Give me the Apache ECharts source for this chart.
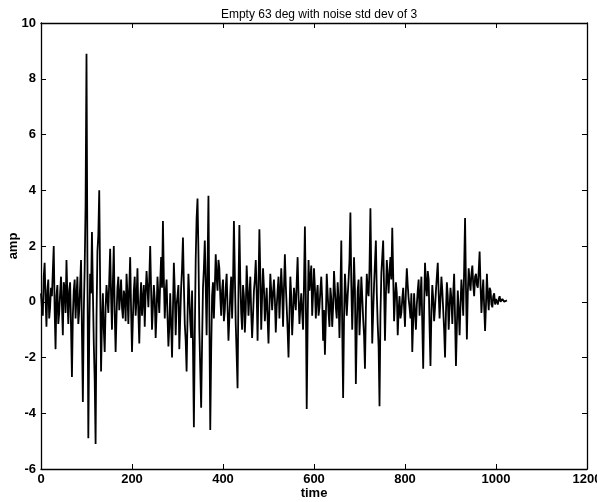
<!DOCTYPE html>
<html>
<head>
<meta charset="utf-8">
<script src="https://cdn.jsdelivr.net/npm/echarts@6/dist/echarts.min.js"></script>
<style>html,body{margin:0;padding:0;background:#fff}#c{width:597px;height:502px}</style>
</head>
<body>
<div id="c"></div>
<script>
const titleText = "Empty 63 deg with noise std dev of 3";
const xName = "time";
const yName = "amp";
const xTicks = [0, 200, 400, 600, 800, 1000, 1200];
const yTicks = [-6, -4, -2, 0, 2, 4, 6, 8, 10];
const sampleStep = 2; // time units between samples
const amp = [
  0.3,-0.2,-0.5,0.9,1.4,0.1,-0.9,0.4,0.8,-0.6,-0.2,0.5,0.2,1.1,2.0,-0.3,-1.7,0.2,0.6,-0.8,-0.4,0.3,0.9,-0.1,-1.2,0.7,0.5,-0.4,1.5,0.2,-0.8,0.4,
  0.7,-0.9,-2.7,-0.5,0.4,0.8,-0.6,0.2,0.9,-0.8,-0.3,0.6,1.5,-1.1,-3.6,-0.4,1.2,3.5,8.9,1.5,-4.9,-1.2,1.0,0.3,2.5,0.4,-1.5,-2.8,-5.1,-0.6,1.8,2.4,
  4.0,0.6,-2.5,-0.7,0.3,-1.0,-1.8,-0.2,0.6,0.1,-0.4,0.8,1.9,0.2,-1.0,0.7,2.0,-0.4,-1.8,-0.5,0.5,0.9,-0.3,0.2,0.8,-0.2,-0.6,0.4,0.2,-0.7,1.0,0.3,
  -0.8,0.5,1.6,-0.3,-1.8,-0.6,0.4,0.9,-0.5,0.1,1.2,-0.4,-1.5,0.0,0.7,-0.5,0.1,0.6,-0.9,0.3,1.1,0.5,-0.2,0.8,2.0,0.4,-1.0,-0.2,0.6,0.1,-1.3,-0.4,
  0.9,0.2,-0.4,0.7,1.6,0.5,2.9,0.8,-0.6,0.3,0.8,-0.5,-1.6,-0.9,0.3,-0.8,-2.0,-0.3,1.4,0.4,-1.2,-0.1,0.2,0.6,-1.7,-0.6,0.5,1.2,2.3,0.6,-0.8,-1.4,
  -2.5,-0.6,1.0,0.2,-0.7,-1.3,0.4,-1.6,-4.5,-1.2,1.5,3.0,3.7,1.8,-1.0,-2.4,-3.8,-1.5,0.5,1.2,2.2,0.6,-1.2,1.1,3.8,-0.4,-4.6,-1.8,0.2,0.7,-0.6,0.5,
  1.7,0.9,0.4,1.5,1.2,0.2,-0.5,0.4,0.8,-0.7,-0.3,0.5,1.0,-0.2,-1.4,-0.6,0.3,0.9,-0.6,0.6,2.9,1.0,-0.8,-1.9,-3.1,0.4,2.75,0.8,-0.4,-1.0,0.6,0.2,
  -1.1,-0.3,1.3,0.5,-0.5,0.2,0.9,-0.4,-1.3,-0.5,0.4,0.8,1.5,0.3,-1.4,0.6,2.6,1.0,-1.0,0.2,1.2,0.5,-0.7,-0.1,0.5,-0.6,-1.5,-0.2,1.0,0.4,-0.3,0.3,
  0.8,0.1,-1.1,-0.2,0.4,0.9,-0.6,0.3,1.2,0.4,-0.9,0.5,1.7,0.6,-0.2,-1.0,-2.0,-0.5,0.9,0.2,-1.2,-0.4,0.5,0.1,-0.3,0.7,1.6,0.2,-0.8,-0.2,0.3,-0.4,
  -1.0,0.6,2.7,0.2,-3.85,-0.8,1.5,0.4,0.8,1.3,-0.5,0.3,1.2,0.5,-0.6,0.2,0.6,-0.5,-0.2,0.4,0.9,0.1,-1.4,-0.3,-1.9,-0.6,1.0,0.3,-0.4,-0.9,0.5,0.1,
  -0.9,-0.2,1.1,0.4,-0.2,-0.6,0.7,0.1,-1.3,0.3,2.2,-0.9,-3.45,-0.6,1.0,0.3,-0.5,0.2,0.8,1.5,3.2,0.6,-1.0,0.2,1.6,0.4,-2.95,-1.0,0.4,0.8,-1.2,-0.3,
  0.9,0.2,-0.6,-1.2,-2.4,-0.3,1.0,0.4,0.2,1.2,3.35,0.9,-1.5,-0.4,0.6,1.4,2.2,0.3,-0.8,-1.6,-3.75,-0.5,1.0,1.6,2.2,0.5,-1.4,0.2,1.5,0.9,0.3,1.1,
  1.6,0.8,2.65,1.0,-0.7,0.1,0.7,0.3,-1.2,-0.3,0.2,-0.6,-0.4,0.1,0.5,-0.2,-0.9,0.4,1.2,0.6,0.1,-0.2,-0.6,0.3,-1.8,-0.7,0.3,-0.4,-1.0,-0.1,0.4,0.8,
  -0.5,0.2,0.9,-0.8,-2.4,-0.2,1.4,0.6,0.2,1.1,0.8,-0.9,-2.3,-0.4,0.6,0.1,-0.7,-0.2,0.4,0.9,1.4,0.3,-0.6,0.1,0.9,0.4,-0.3,-1.0,-2.0,-0.4,0.7,0.2,
  -1.0,-0.2,0.5,0.1,-0.8,0.3,1.0,-0.6,-2.3,-0.9,0.4,-0.3,-1.2,-0.1,0.8,0.2,-0.5,1.2,3.0,0.5,-1.35,0.3,1.2,0.7,0.4,1.0,1.3,0.6,0.2,0.9,1.0,0.6,
  0.5,1.1,1.8,0.6,-0.4,0.3,0.8,-0.2,-1.05,-0.1,1.0,0.2,-0.3,0.5,0.4,-0.1,-0.2,0.2,0.3,-0.1,0.1,0.15,-0.1,0.1,0.2,0.0,0.05,0.1,0.1,0.0,0.0,0.05,
  0.05
];

const data = amp.map((v, i) => [i * sampleStep, v]);
const chart = echarts.init(document.getElementById('c'), null, {renderer: 'canvas'});
const lbl = {color: '#000', fontFamily: 'Liberation Sans, Arial, sans-serif', fontSize: 13, fontWeight: 'bold'};
const line = {show: true, onZero: false, lineStyle: {color: '#000', width: 1.3}};
const tick = {show: true, inside: true, length: 5, lineStyle: {color: '#000', width: 1}};
const plain = v => String(v);
chart.setOption({
  animation: false,
  backgroundColor: '#fff',
  title: {text: titleText, left: 314, top: 4, textAlign: 'center',
    textStyle: {color: '#000', fontFamily: 'Liberation Sans, Arial, sans-serif', fontSize: 12, fontWeight: 'normal'}},
  grid: {left: 41, right: 10, top: 23, bottom: 33, outerBoundsMode: 'none', containLabel: false},
  xAxis: [
    {type: 'value', min: xTicks[0], max: xTicks[xTicks.length-1], interval: 200, position: 'bottom',
     name: xName, nameLocation: 'middle', nameGap: 18, nameMoveOverlap: false, nameTextStyle: lbl,
     axisLine: line, axisTick: tick, splitLine: {show: false},
     axisLabel: Object.assign({margin: 4, formatter: plain}, lbl)},
    {type: 'value', min: xTicks[0], max: xTicks[xTicks.length-1], interval: 200, position: 'top',
     axisLine: line, axisTick: tick, splitLine: {show: false}, axisLabel: {show: false}}
  ],
  yAxis: [
    {type: 'value', min: yTicks[0], max: yTicks[yTicks.length-1], interval: 2, position: 'left',
     name: yName, nameLocation: 'middle', nameGap: 21, nameMoveOverlap: false, nameRotate: 90, nameTextStyle: lbl,
     axisLine: line, axisTick: tick, splitLine: {show: false},
     axisLabel: Object.assign({margin: 5, formatter: plain}, lbl)},
    {type: 'value', min: yTicks[0], max: yTicks[yTicks.length-1], interval: 2, position: 'right',
     axisLine: line, axisTick: tick, splitLine: {show: false}, axisLabel: {show: false}}
  ],
  series: [{
    type: 'line', data: data, showSymbol: false, symbol: 'none',
    lineStyle: {color: '#000', width: 1.8}, silent: true
  }]
});
</script>
</body>
</html>
